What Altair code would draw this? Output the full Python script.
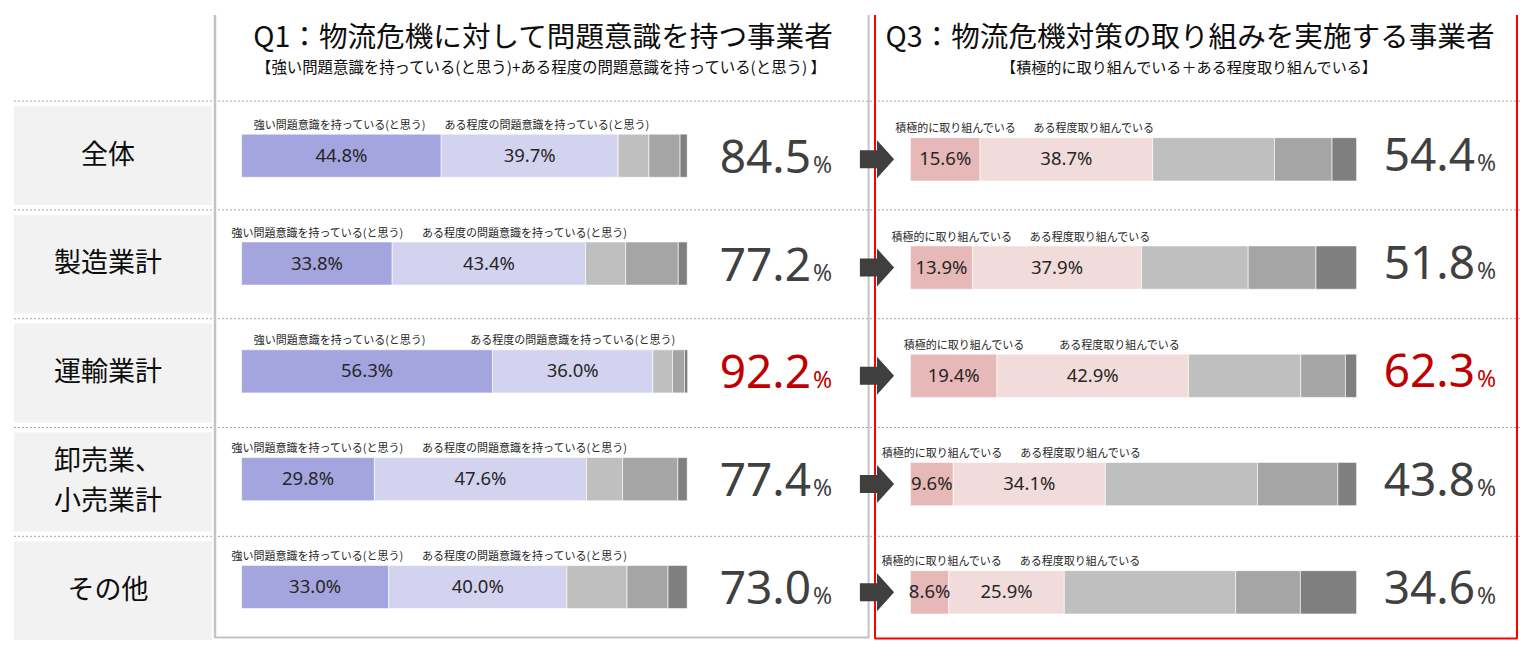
import altair as alt
import pandas as pd

# ---------------- data ----------------
categories = ["全体", "製造業計", "運輸業計", "卸売業、\n小売業計", "その他"]

q1_names = ["強い問題意識を持っている(と思う)", "ある程度の問題意識を持っている(と思う)"]
q1_strong = [44.8, 33.8, 56.3, 29.8, 33.0]
q1_some = [39.7, 43.4, 36.0, 47.6, 40.0]
q1_grey1 = [6.9, 9.0, 4.4, 8.1, 13.5]
q1_grey2 = [7.0, 11.8, 2.7, 12.4, 9.2]
q1_grey3 = [1.6, 2.0, 0.7, 2.1, 4.3]
q1_total = [84.5, 77.2, 92.2, 77.4, 73.0]

q3_names = ["積極的に取り組んでいる", "ある程度取り組んでいる"]
q3_active = [15.6, 13.9, 19.4, 9.6, 8.6]
q3_some = [38.7, 37.9, 42.9, 34.1, 25.9]
q3_grey1 = [27.3, 23.9, 25.2, 34.1, 38.4]
q3_grey2 = [12.9, 15.2, 10.0, 18.0, 14.5]
q3_grey3 = [5.5, 9.1, 2.5, 4.2, 12.6]
q3_total = [54.4, 51.8, 62.3, 43.8, 34.6]

q1_title = "Q1：物流危機に対して問題意識を持つ事業者"
q1_sub = "【強い問題意識を持っている(と思う)+ある程度の問題意識を持っている(と思う) 】"
q3_title = "Q3：物流危機対策の取り組みを実施する事業者"
q3_sub = "【積極的に取り組んでいる＋ある程度取り組んでいる】"

highlight = "運輸業計"

q1_colors = ["#a4a4de", "#d3d3ef", "#bfbfbf", "#a5a5a5", "#7f7f7f"]
q3_colors = ["#e6b8b7", "#f2dcdb", "#bfbfbf", "#a5a5a5", "#7f7f7f"]

JP = "Noto Sans CJK JP"
NUM = "Noto Sans"


# ---------------- tables ----------------
def seg_table(lists):
    recs = []
    for i in range(len(categories)):
        start = 0.0
        for s, lst in enumerate(lists):
            v = lst[i]
            recs.append(dict(i=i, seg=s, value=v, start=start, end=start + v))
            start += v
    return pd.DataFrame(recs)


def label_table(names, v1, v2):
    recs = []
    for i in range(len(categories)):
        for s, n in enumerate(names):
            recs.append(dict(i=i, seg=s, name=n, v1=v1[i], v2=v2[i]))
    return pd.DataFrame(recs)


def total_table(totals):
    return pd.DataFrame(dict(i=list(range(len(categories))), cat=categories, total=totals))


rows_df = pd.DataFrame(dict(i=list(range(len(categories))), cat=categories))
one = pd.DataFrame([{"k": 0}])

lab_scale = alt.Scale(domain=[0, 4], range=[147.5, 582.7], nice=False, zero=False)


def panel(segs, names, v1, v2, totals, colors, xr, yr, lab0, lab1, tot_x, tot_dy):
    xs = alt.Scale(domain=[0, 100], range=xr, nice=False, zero=False)
    ys = alt.Scale(domain=[0, 4], range=yr, nice=False, zero=False)
    df = seg_table(segs)
    bars = alt.Chart(df).transform_calculate(
        y0="datum.i - 0.2", y1="datum.i + 0.2"
    ).mark_bar(stroke="white", strokeWidth=0.6).encode(
        x=alt.X("start:Q", scale=xs, axis=None),
        x2="end:Q",
        y=alt.Y("y0:Q", scale=ys, axis=None),
        y2="y1:Q",
        color=alt.Color("seg:N", scale=alt.Scale(domain=[0, 1, 2, 3, 4], range=colors), legend=None),
    )
    pct = alt.Chart(df).transform_filter("datum.seg < 2").transform_calculate(
        mid="datum.start + datum.value / 2",
        txt="format(datum.value, '.1f') + '%'",
    ).mark_text(font=NUM, fontSize=18.5, color="#262626", baseline="middle", align="center").encode(
        x=alt.X("mid:Q", scale=xs, axis=None),
        y=alt.Y("i:Q", scale=ys, axis=None),
        text="txt:N",
    )
    lab = alt.Chart(label_table(names, v1, v2)).transform_calculate(
        c0=lab0
    ).transform_calculate(
        pos="datum.seg == 0 ? datum.c0 : " + lab1
    ).mark_text(font=JP, fontSize=11, color="#262626", baseline="middle", align="center", dy=-30).encode(
        x=alt.X("pos:Q", scale=xs, axis=None),
        y=alt.Y("i:Q", scale=ys, axis=None),
        text="name:N",
    )
    tdf = total_table(totals)
    col = alt.condition(alt.datum.cat == highlight, alt.value("#c00000"), alt.value("#404040"))
    tot = alt.Chart(tdf).transform_calculate(
        txt="format(datum.total, '.1f')"
    ).mark_text(font=NUM, fontSize=46, align="right", baseline="alphabetic", dy=tot_dy).encode(
        x=alt.value(tot_x),
        y=alt.Y("i:Q", scale=ys, axis=None),
        text="txt:N",
        color=col,
    )
    pc = alt.Chart(tdf).mark_text(font=NUM, fontSize=23, align="left", baseline="alphabetic", dy=tot_dy).encode(
        x=alt.value(tot_x + 2),
        y=alt.Y("i:Q", scale=ys, axis=None),
        text=alt.value("%"),
        color=col,
    )
    return [bars, pct, lab, tot, pc]


# ---------------- layers ----------------
boxes = alt.Chart(rows_df).transform_calculate(
    b0="datum.i - 0.455", b1="datum.i + 0.455"
).mark_rect(color="#f2f2f2").encode(
    x=alt.value(6), x2=alt.value(204),
    y=alt.Y("b0:Q", scale=lab_scale, axis=None), y2="b1:Q",
)

seps = alt.Chart(rows_df).transform_calculate(
    s="datum.i - 0.5"
).mark_rule(color="#a6a6a6", strokeWidth=1, strokeDash=[2, 2]).encode(
    x=alt.value(6), x2=alt.value(1512),
    y=alt.Y("s:Q", scale=lab_scale, axis=None),
)

LINE_H = 39.3
row_text = alt.Chart(rows_df).transform_calculate(
    lines="split(datum.cat, '\\n')"
).transform_flatten(
    ["lines"], as_=["line"]
).transform_window(
    k="row_number()", groupby=["i"]
).transform_joinaggregate(
    nl="count()", groupby=["i"]
).transform_calculate(
    yy="datum.i + ((datum.k - 1) - (datum.nl - 1) / 2) * %f / 108.8" % LINE_H
).mark_text(
    font=JP, fontSize=27, color="#0d0d0d", baseline="middle", align="center"
).encode(
    x=alt.value(100),
    y=alt.Y("yy:Q", scale=lab_scale, axis=None),
    text="line:N",
)


def rule(x, x2, y, y2, color, w):
    return alt.Chart(one).mark_rule(color=color, strokeWidth=w).encode(
        x=alt.value(x), x2=alt.value(x2), y=alt.value(y), y2=alt.value(y2)
    )


grey = "#c3c3c3"
borders = [
    rule(207, 207, 7, 630, grey, 2.5),
    rule(860.6, 860.6, 7, 630, grey, 2),
    rule(207, 861, 629.5, 629.5, grey, 2),
    rule(867, 867, 7, 631, "#ff0000", 2),
    rule(1509, 1509, 7, 631, "#ff0000", 2),
    rule(867, 1509, 630.5, 630.5, "#ff0000", 2),
]


def title(txt, x, y, size):
    return alt.Chart(pd.DataFrame([{"t": txt}])).mark_text(
        font=JP, fontSize=size, color="#0d0d0d", align="center", baseline="middle"
    ).encode(x=alt.value(x), y=alt.value(y), text="t:N")


titles = [
    title(q1_title, 535, 30, 28.6),
    title(q1_sub, 533, 59.5, 15.4),
    title(q3_title, 1182, 30, 28.6),
    title(q3_sub, 1181, 59.5, 15.1),
]

q1_layers = panel(
    [q1_strong, q1_some, q1_grey1, q1_grey2, q1_grey3], q1_names, q1_strong, q1_some, q1_total,
    q1_colors, [233.6, 679.2], [147.7, 579.0],
    "clamp(datum.v1 / 2, 17, 22)",
    "max(datum.v1 + datum.v2 / 2, datum.c0 + 46.5)",
    803, 17,
)
q3_yr = [151.3, 584.3]
q3_layers = panel(
    [q3_active, q3_some, q3_grey1, q3_grey2, q3_grey3], q3_names, q3_active, q3_some, q3_total,
    q3_colors, [902.4, 1348.6], q3_yr,
    "max(datum.v1 / 2 + 2.3, 7)",
    "max(datum.v1 + datum.v2 / 2 + 6, datum.c0 + 31)",
    1467, 11.5,
)

arrow_path = "M-0.9,-0.47L0,-0.47L0,-1L0.9,0L0,1L0,0.47L-0.9,0.47Z"
arrows = alt.Chart(rows_df).mark_point(
    shape=arrow_path, size=1444, filled=True, opacity=1, color="#3f3f3f", strokeWidth=0
).encode(
    x=alt.value(869),
    y=alt.Y("i:Q", scale=alt.Scale(domain=[0, 4], range=q3_yr, nice=False, zero=False), axis=None),
)

chart = alt.layer(
    boxes, seps, row_text, *borders, *titles, *q1_layers, *q3_layers, arrows
).resolve_scale(
    x="independent", y="independent", color="independent"
).properties(
    width=1515, height=632, padding=0, autosize=alt.AutoSizeParams(type="none")
).configure_view(stroke=None)

chart.save("out.html", embed_options={"renderer": "svg", "actions": False})
